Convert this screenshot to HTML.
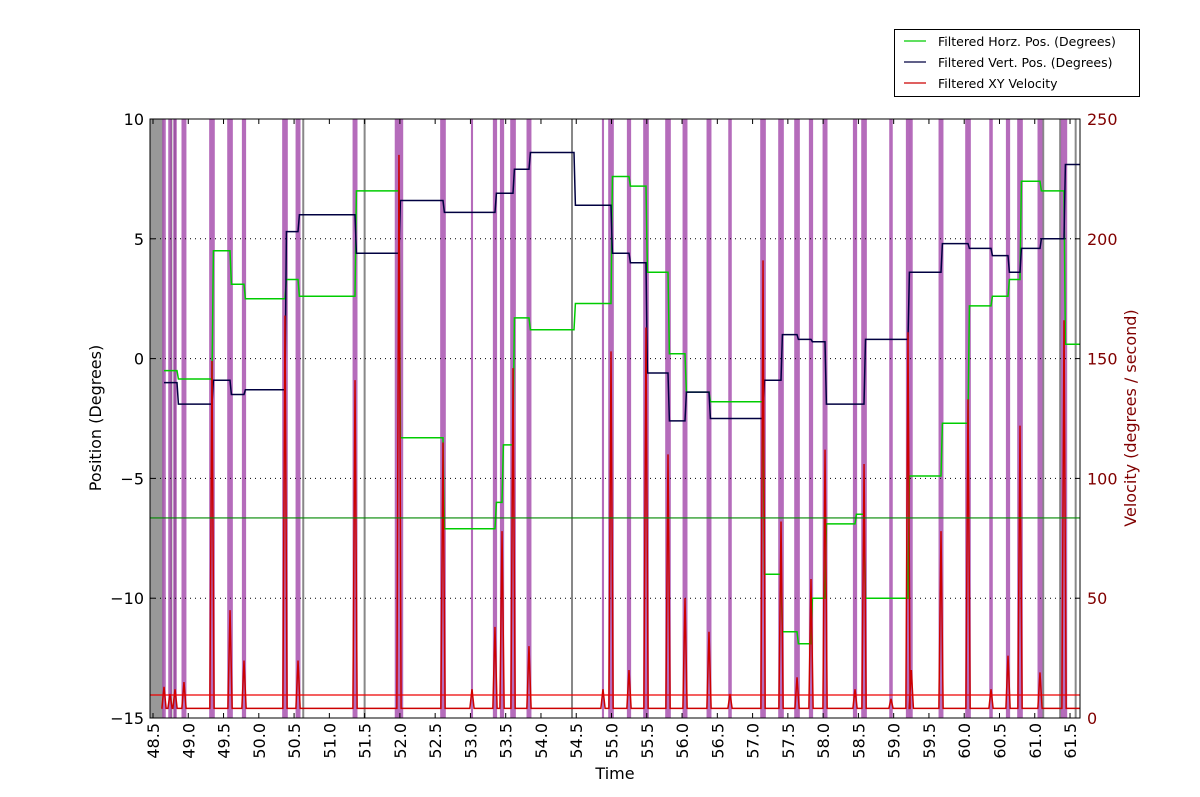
<!DOCTYPE html>
<html><head><meta charset="utf-8"><style>
body{margin:0;background:#fff;}
svg{display:block;font-family:"DejaVu Sans","Liberation Sans",sans-serif;}
</style></head><body>
<svg id="chart" width="1200" height="797" xmlns="http://www.w3.org/2000/svg">
<g id="bands"></g>
<g id="grid"></g>
<g id="series"></g>
<g id="axes"></g>
<g>
<rect x="894.5" y="29.5" width="245" height="67" fill="#fff" stroke="#000" stroke-width="1"/>
<g><line x1="904" y1="41" x2="926" y2="41" stroke="#00cc00" stroke-width="1.3"/><text x="938" y="46" font-size="12.5">Filtered Horz. Pos. (Degrees)</text></g>
<g><line x1="904" y1="62" x2="926" y2="62" stroke="#000040" stroke-width="1.3"/><text x="938" y="67" font-size="12.5">Filtered Vert. Pos. (Degrees)</text></g>
<g><line x1="904" y1="83" x2="926" y2="83" stroke="#cc0000" stroke-width="1.3"/><text x="938" y="88" font-size="12.5">Filtered XY Velocity</text></g>
</g>
<text x="615" y="779" font-size="16" text-anchor="middle">Time</text>
<text transform="translate(101,418) rotate(-90)" font-size="16" text-anchor="middle">Position (Degrees)</text>
<text transform="translate(1136,418) rotate(-90)" font-size="16" text-anchor="middle" fill="#800000">Velocity (degrees / second)</text>
</svg>
<script>
const boundTimes=[48.656,48.840,49.336,49.592,49.790,50.371,50.556,51.364,51.987,52.611,53.348,53.448,53.604,53.830,54.468,54.993,55.248,55.489,55.801,56.042,56.382,57.148,57.403,57.630,57.828,58.027,58.452,58.580,59.203,59.671,60.054,60.380,60.621,60.791,61.074,61.415,61.641];
const horzLevels=[-0.5,-0.85,4.5,3.1,2.5,3.3,2.6,7.0,-3.3,-7.1,-6.0,-3.6,1.7,1.2,2.3,7.6,7.2,3.6,0.2,-1.4,-1.8,-9.0,-11.4,-11.9,-10.0,-6.9,-6.5,-10.0,-4.9,-2.7,2.2,2.6,3.3,7.4,7.0,0.6];
const vertLevels=[-1.0,-1.9,-0.9,-1.5,-1.3,5.3,6.0,4.4,6.6,6.1,6.9,6.9,7.9,8.6,6.4,4.4,4.0,-0.6,-2.6,-1.4,-2.5,-0.9,1.0,0.8,0.7,-1.9,-1.9,0.8,3.6,4.8,4.6,4.3,3.6,4.6,5.0,8.1];
const saccadeTimes=[48.656,48.741,48.812,48.939,49.336,49.592,49.790,50.371,50.556,51.364,51.987,52.611,53.022,53.348,53.448,53.604,53.830,54.879,54.993,55.248,55.489,55.801,56.042,56.382,56.680,57.148,57.403,57.630,57.828,58.027,58.452,58.580,58.962,59.203,59.250,59.671,60.054,60.380,60.621,60.791,61.074,61.415];
const saccadeWidths=[0.05,0.05,0.05,0.07,0.08,0.08,0.06,0.08,0.07,0.07,0.12,0.08,0.03,0.06,0.06,0.08,0.07,0.03,0.08,0.06,0.08,0.08,0.07,0.07,0.05,0.08,0.08,0.08,0.06,0.07,0.06,0.08,0.05,0.06,0.04,0.07,0.08,0.05,0.06,0.08,0.07,0.09];
const peakVelocities=[13,10,12,15,149,45,24,168,24,141,235,115,12,38,78,146,30,12,153,20,163,110,50,36,10,191,82,17,58,112,12,106,8,161,20,78,133,12,26,122,19,166];
const grayTimes=[48.76,48.81,50.63,51.50,54.44,61.12,61.36,61.58];
const blinkStart=48.457, blinkEnd=48.65;
const yTicks=[-15,-10,-5,0,5,10];
const vTicks=[0,50,100,150,200,250];
const xTicks=[48.5,49.0,49.5,50.0,50.5,51.0,51.5,52.0,52.5,53.0,53.5,54.0,54.5,55.0,55.5,56.0,56.5,57.0,57.5,58.0,58.5,59.0,59.5,60.0,60.5,61.0,61.5];
const velThreshold=9.6, posThreshold=-6.65, velBaseline=4;

const L=150,R=1080,T=119,B=718;
const X=t=>153+(t-48.5)*70.54;
const Y=v=>T+(10-v)*(B-T)/25;
const V=v=>B-v*(B-T)/250;
const NS="http://www.w3.org/2000/svg";
function mk(tag,attrs,parent){const e=document.createElementNS(NS,tag);for(const k in attrs)e.setAttribute(k,attrs[k]);parent.appendChild(e);return e;}
const bands=document.getElementById('bands'),grid=document.getElementById('grid'),series=document.getElementById('series'),axes=document.getElementById('axes');

let e=mk('rect',{x:X(blinkStart),y:T,width:X(blinkEnd)-X(blinkStart),height:B-T,fill:'#999'},bands);


grayTimes.forEach(t=>{const g=mk('rect',{x:X(t)-1,y:T,width:2,height:B-T,fill:'#888'},bands);

});
saccadeTimes.forEach((t,i)=>{const w=saccadeWidths[i]*70.54;const r=mk('rect',{x:X(t)-w/2,y:T,width:w,height:B-T,fill:'#a247aa','fill-opacity':0.8},bands);

});

yTicks.forEach(v=>{if(v>-15&&v<10){const l=mk('line',{x1:L,x2:R,y1:Y(v),y2:Y(v),stroke:'#000','stroke-dasharray':'1,4'},grid);

}});

function stepPath(levels){let d='';const tr=0.02;for(let i=0;i<levels.length;i++){const t0=boundTimes[i]+(i?tr:0),t1=boundTimes[i+1];d+=(i?'L':'M')+X(t0).toFixed(1)+','+Y(levels[i]).toFixed(1)+'L'+X(t1).toFixed(1)+','+Y(levels[i]).toFixed(1);}return d;}
let p=mk('path',{d:stepPath(horzLevels),fill:'none',stroke:'#00cc00','stroke-width':1.5},series);


p=mk('path',{d:stepPath(vertLevels),fill:'none',stroke:'#000040','stroke-width':1.5},series);



let d='M'+X(48.62)+','+V(velBaseline);
saccadeTimes.forEach((t,i)=>{d+='L'+X(t-0.03)+','+V(velBaseline)+'L'+X(t)+','+V(peakVelocities[i])+'L'+X(t+0.03)+','+V(velBaseline);});
d+='L'+R+','+V(velBaseline);
p=mk('path',{d:d,fill:'none',stroke:'#cc0000','stroke-width':1.5},series);



let th=mk('line',{x1:L,x2:R,y1:Y(posThreshold),y2:Y(posThreshold),stroke:'#008800','stroke-width':1.2},series);


th=mk('line',{x1:L,x2:R,y1:V(velThreshold),y2:V(velThreshold),stroke:'#ee0000','stroke-width':1.2},series);



let f=mk('rect',{x:L,y:T,width:R-L,height:B-T,fill:'none',stroke:'#000','stroke-width':1},axes);


yTicks.forEach(v=>{mk('line',{x1:L,x2:L+5,y1:Y(v),y2:Y(v),stroke:'#000'},axes);
const t=mk('text',{x:L-6,y:Y(v)+6,'font-size':16,'text-anchor':'end'},axes);t.textContent=(v<0?'\u2212'+(-v):v);

});
vTicks.forEach(v=>{mk('line',{x1:R-5,x2:R,y1:V(v),y2:V(v),stroke:'#000'},axes);
const t=mk('text',{x:R+7,y:V(v)+6,'font-size':16,fill:'#800000'},axes);t.textContent=v;

});
xTicks.forEach(v=>{const x=X(v);mk('line',{x1:x,x2:x,y1:B-5,y2:B,stroke:'#000'},axes);mk('line',{x1:x,x2:x,y1:T,y2:T+5,stroke:'#000'},axes);
const t=mk('text',{transform:`translate(${x+6},${B+5}) rotate(-90)`,'font-size':16,'text-anchor':'end'},axes);t.textContent=v.toFixed(1);

});
</script>
</body></html>
